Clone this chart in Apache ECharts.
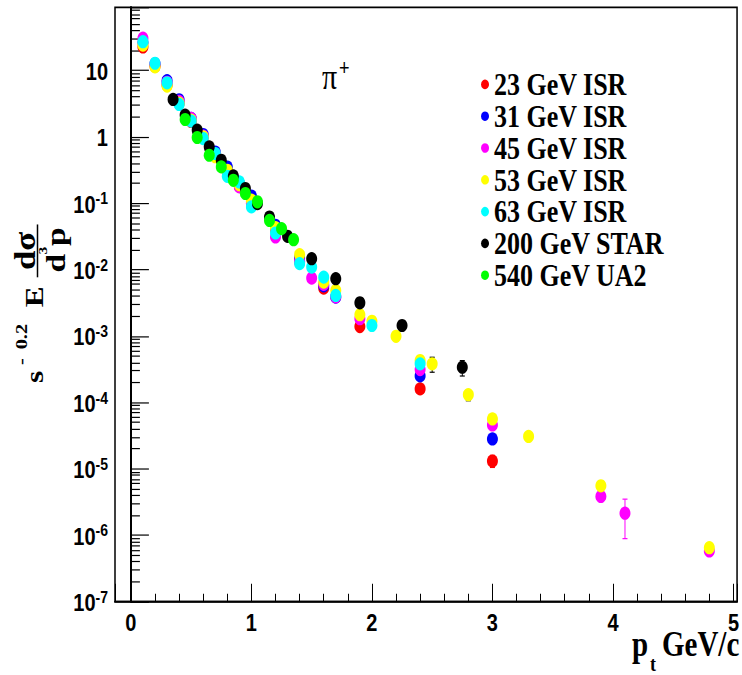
<!DOCTYPE html>
<html>
<head>
<meta charset="utf-8">
<script src="https://cdn.jsdelivr.net/npm/echarts@6/dist/echarts.min.js"></script>
<style>
  html, body { margin: 0; padding: 0; background: #fff; width: 742px; height: 675px; }
  /* the plot is laid out on a 742x562 canvas and stretched to the 675px page height */
  #chart { width: 742px; height: 562px; transform: scaleY(1.2010676); transform-origin: 0 0; }
</style>
</head>
<body>
<div id="chart"></div>
<script>
// ---- data: invariant pi+ cross sections, [pt (GeV/c), s^-0.2 E d3sigma/dp3] ----
const seriesNames = ['23 GeV ISR', '31 GeV ISR', '45 GeV ISR', '53 GeV ISR', '63 GeV ISR', '200 GeV STAR', '540 GeV UA2'];
const seriesColors = ['#ff0000', '#0000ff', '#ff00ff', '#ffff00', '#00ffff', '#000000', '#00ff00'];

const isr23 = [[0.1, 22.5], [0.2, 11.5], [0.3, 6.0], [0.4, 3.2], [0.5, 1.7], [0.6, 0.98], [0.7, 0.53], [0.8, 0.30],
  [0.9, 0.18], [1.0, 0.105], [1.2, 0.040], [1.4, 0.013], [1.6, 0.00526], [1.9, 0.00139], [2.4, 1.6e-4], [3.0, 1.31e-5]];
const isr31 = [[0.1, 26], [0.2, 12.5], [0.3, 7.0], [0.4, 3.6], [0.5, 1.89], [0.6, 1.08], [0.7, 0.59], [0.8, 0.35],
  [0.9, 0.20], [1.0, 0.128], [1.2, 0.0465], [1.4, 0.015], [1.6, 0.0057], [1.7, 0.00385], [2.4, 2.51e-4], [3.0, 2.82e-5]];
const isr45 = [[0.1, 30.5], [0.2, 12.5], [0.3, 6.6], [0.4, 3.4], [0.5, 1.89], [0.6, 1.02], [0.7, 0.55], [0.8, 0.29],
  [0.9, 0.176], [1.0, 0.10], [1.2, 0.031], [1.4, 0.0135], [1.5, 0.00745], [1.6, 0.006], [1.7, 0.0039], [1.9, 0.00182],
  [2.4, 3.13e-4], [3.0, 4.58e-5], [3.9, 3.84e-6], [4.1, 2.15e-6], [4.8, 5.8e-7]];
const isr53 = [[0.1, 24], [0.2, 11.3], [0.3, 5.8], [0.4, 3.2], [0.5, 1.78], [0.6, 1.0], [0.7, 0.50], [0.8, 0.313],
  [0.9, 0.19], [1.0, 0.111], [1.2, 0.0428], [1.4, 0.0168], [1.6, 0.00648], [1.7, 0.00485], [1.9, 0.00209], [2.0, 0.00167],
  [2.2, 0.00099], [2.4, 4.27e-4], [2.5, 3.81e-4], [2.8, 1.31e-4], [3.0, 5.64e-5], [3.3, 3.08e-5], [3.9, 5.56e-6], [4.8, 6.5e-7]];
const isr63 = [[0.1, 27], [0.2, 12.8], [0.3, 6.5], [0.4, 3.07], [0.5, 1.72], [0.6, 0.94], [0.7, 0.56], [0.8, 0.254],
  [0.9, 0.209], [1.0, 0.088], [1.2, 0.0356], [1.4, 0.0123], [1.5, 0.0109], [1.6, 0.0077], [1.7, 0.00408], [2.0, 0.00144],
  [2.4, 3.81e-4]];
const star200 = [[0.35, 3.65], [0.45, 2.12], [0.55, 1.26], [0.65, 0.705], [0.75, 0.443], [0.85, 0.257], [0.95, 0.166],
  [1.05, 0.0986], [1.15, 0.062], [1.3, 0.0317], [1.5, 0.0146], [1.7, 0.0073], [1.9, 0.00316], [2.25, 0.00144], [2.75, 3.39e-4]];
const ua2540 = [[0.45, 1.82], [0.55, 0.975], [0.65, 0.527], [0.75, 0.352], [0.85, 0.221], [0.95, 0.140], [1.05, 0.105],
  [1.15, 0.055], [1.25, 0.0414], [1.35, 0.0282]];

// error bars: [pt, low, high]
const err23 = [[3.0, 1.05e-5, 1.6e-5]];
const err45 = [[4.1, 8.9e-7, 3.5e-6], [4.8, 5.0e-7, 6.6e-7]];
const err53 = [[2.5, 2.85e-4, 4.79e-4], [2.8, 1.06e-4, 1.55e-4]];
const err200 = [[2.75, 2.5e-4, 4.27e-4]];

// axes
const xTickLabels = [0, 1, 2, 3, 4, 5];
const X_MIN = -0.132, X_MAX = 5.03, Y_MIN = 1e-7, Y_MAX = 89;

// ---- layout (chart units; the page is stretched vertically by SCALE) ----
const SCALE = 675 / 562;
const sy = v => v / SCALE;
const SERIF = "'Liberation Serif', 'Times New Roman', serif";
const SANS = "'Liberation Sans', Arial, Helvetica, sans-serif";

// text element placed by its left edge and alphabetic baseline
function txt(str, x, baseline, size, family, weight, align) {
  return {
    type: 'text', x: x, y: baseline - 0.34 * size,
    style: { text: str, fill: '#000', font: (weight || 'normal') + ' ' + size + 'px ' + family,
      align: align || 'left', verticalAlign: 'middle' }
  };
}

function errorSeries(name, rows, color) {
  return {
    name: name, type: 'custom', silent: true, z: 1,
    data: rows,
    renderItem: (params, api) => {
      const x = api.value(0);
      const a = api.coord([x, api.value(1)]);
      const b = api.coord([x, api.value(2)]);
      const hw = 2.5, st = { stroke: color, lineWidth: 1 };
      return { type: 'group', children: [
        { type: 'line', shape: { x1: a[0], y1: a[1], x2: b[0], y2: b[1] }, style: st },
        { type: 'line', shape: { x1: a[0] - hw, y1: a[1], x2: a[0] + hw, y2: a[1] }, style: st },
        { type: 'line', shape: { x1: b[0] - hw, y1: b[1], x2: b[0] + hw, y2: b[1] }, style: st }
      ] };
    }
  };
}

const pointSets = [isr23, isr31, isr45, isr53, isr63, star200, ua2540];
const scatterSeries = pointSets.map((pts, i) => ({
  name: seriesNames[i], type: 'scatter', data: pts, symbol: 'circle', symbolSize: 11, z: 2,
  itemStyle: { color: seriesColors[i], opacity: 1 }
}));

function yLabel(v) {
  const e = Math.round(Math.log10(v));
  if (e === 1) return '{b|10}';
  if (e === 0) return '{b|1}';
  return '{b|10}{s|' + e + '}';
}

// axis titles and the particle label
const yTitle = {
  type: 'group', x: 43, y: sy(383), rotation: Math.PI / 2,
  children: [
    txt('s', 0, 0, 26, SERIF, 'bold'),
    txt('-', 15, -16, 17, SERIF, 'bold'),
    txt('0.2', 28, -16, 17, SERIF, 'bold'),
    txt('E', 63, 0, 26, SERIF, 'bold'),
    { type: 'line', shape: { x1: 88, y1: -5.5, x2: 132, y2: -5.5 }, style: { stroke: '#000', lineWidth: 1.5 } },
    txt('dσ', 110, -8, 29, SERIF, 'bold', 'center'),
    txt('d', 92, 22, 28, SERIF, 'bold'),
    txt('3', 107, 4, 13, SERIF, 'bold'),
    txt('p', 114, 22, 28, SERIF, 'bold')
  ]
};

const tickLine = { color: '#000', width: 1 };

const chart = echarts.init(document.getElementById('chart'), null, { renderer: 'svg' });
chart.setOption({
  animation: false,
  backgroundColor: '#fff',
  grid: { left: 115, right: 2, top: sy(7.3), bottom: 562 - sy(601.7), show: true, borderColor: '#000', borderWidth: 1.5 },
  xAxis: {
    type: 'value', min: X_MIN, max: X_MAX, splitNumber: 5,
    axisLine: { show: true, onZero: false, lineStyle: { color: '#000', width: 1.8 } },
    // unit ticks, with 0.2 steps between them, pointing into the frame
    axisTick: { show: true, inside: true, length: sy(18), lineStyle: tickLine },
    minorTick: { show: true, splitNumber: 5, length: sy(8), lineStyle: tickLine },
    splitLine: { show: false }, minorSplitLine: { show: false },
    axisLabel: { customValues: xTickLabels, color: '#000', fontFamily: SANS, fontWeight: 'bold', fontSize: 20, margin: 8 }
  },
  yAxis: {
    type: 'log', logBase: 10, min: Y_MIN, max: Y_MAX, interval: 1,
    axisLine: { show: true, lineStyle: { color: '#000', width: 2 } },
    // decade ticks, with 2..9 steps inside each decade
    axisTick: { show: true, inside: true, length: 18, lineStyle: tickLine },
    minorTick: { show: true, splitNumber: 9, length: 9, lineStyle: tickLine },
    splitLine: { show: false }, minorSplitLine: { show: false },
    axisLabel: {
      showMaxLabel: false, showMinLabel: true, margin: 7, formatter: yLabel,
      rich: {
        b: { fontFamily: SANS, fontWeight: 'bold', fontSize: 20, lineHeight: 22, color: '#000', verticalAlign: 'bottom' },
        s: { fontFamily: SANS, fontWeight: 'bold', fontSize: 14, lineHeight: 14, color: '#000', verticalAlign: 'top' }
      }
    }
  },
  legend: {
    data: seriesNames, orient: 'vertical', left: 476, top: sy(62.5), itemWidth: 8, itemHeight: 8, itemGap: 0,
    icon: 'circle', selectedMode: false,
    textStyle: { fontFamily: SERIF, fontWeight: 'bold', fontSize: 26, color: '#000', lineHeight: sy(31.8) }
  },
  graphic: [
    txt('π', 322, sy(89), 30, SERIF, 'normal'),
    txt('+', 339, sy(75), 18, SANS, 'normal'),
    txt('p', 632, sy(656), 29, SERIF, 'bold'),
    txt('t', 650, sy(671), 18, SERIF, 'bold'),
    txt('GeV/c', 662, sy(656), 29, SERIF, 'bold'),
    yTitle
  ],
  series: [
    errorSeries('err23', err23, seriesColors[0]),
    errorSeries('err45', err45, seriesColors[2]),
    errorSeries('err53', err53, '#000000'),
    errorSeries('err200', err200, seriesColors[5]),
    ...scatterSeries
  ]
});
</script>
</body>
</html>
